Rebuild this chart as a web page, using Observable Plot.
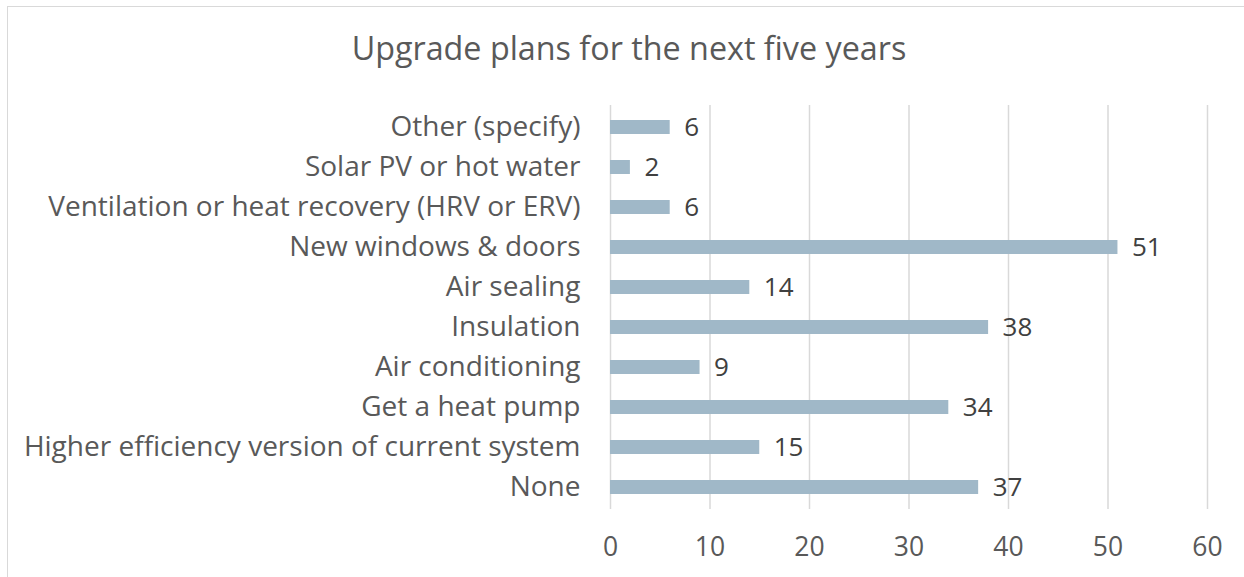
<!DOCTYPE html>
<html><head><meta charset="utf-8">
<script src="https://cdn.jsdelivr.net/npm/d3@7"></script>
<script src="https://cdn.jsdelivr.net/npm/@observablehq/plot@0.6"></script>
<style>
body{margin:0;background:#fff;font-family:"Open Sans",sans-serif;}
#wrap{position:relative;width:1244px;height:577px;overflow:hidden;}
#frame{position:absolute;left:7px;top:6px;width:1250px;height:600px;border:1px solid #D9D9D9;box-sizing:border-box;}
#title{position:absolute;left:0;top:0;width:1258px;height:90px;line-height:94px;text-align:center;font-size:32.3px;color:#595959;}
#chart{position:absolute;left:0;top:90px;}
</style></head>
<body>
<div id="wrap"><div id="frame"></div><div id="title">Upgrade plans for the next five years</div><div id="chart"></div></div>
<script>
const categories = ["Other (specify)","Solar PV or hot water","Ventilation or heat recovery (HRV or ERV)","New windows & doors","Air sealing","Insulation","Air conditioning","Get a heat pump","Higher efficiency version of current system","None"];
const values = [6,2,6,51,14,38,9,34,15,37];
const xTicks = [0,10,20,30,40,50,60];
const data = categories.map((c,i)=>({category:c,value:values[i]}));
const chart = Plot.plot({
  width:1244, height:487,
  marginTop:15, marginBottom:68, marginLeft:610, marginRight:37,
  style:{fontFamily:"Open Sans, sans-serif", fontSize:"28px", color:"#595959", background:"transparent"},
  x:{domain:[0,60], ticks:xTicks, label:null},
  y:{domain:categories, paddingInner:0.66, paddingOuter:0.33, label:null},
  marks:[
    Plot.gridX(xTicks,{stroke:"#D9D9D9", strokeOpacity:1, strokeWidth:1.5}),
    Plot.barX(data,{y:"category", x:"value", fill:"#A0B8C8"}),
    Plot.text(data,{y:"category", x:"value", text:d=>String(d.value), textAnchor:"start", dx:14, fill:"#404040", fontSize:26}),
    Plot.axisX(xTicks,{tickSize:0, tickPadding:28, fontSize:26.5, fill:"#595959"}),
    Plot.axisY({tickSize:0, tickPadding:30, fontSize:28, fill:"#595959"})
  ]
});
document.getElementById("chart").appendChild(chart);
</script>
</body></html>
